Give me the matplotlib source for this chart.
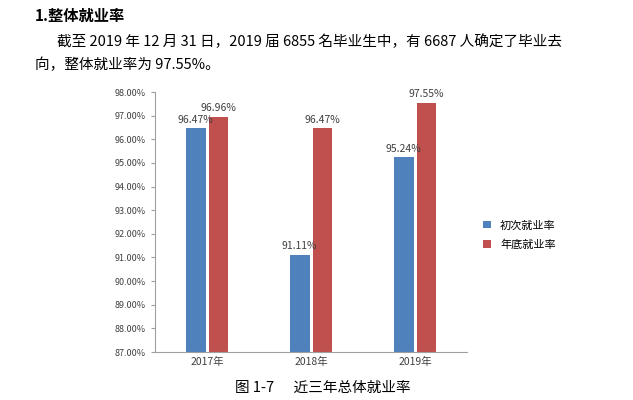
import matplotlib
matplotlib.use("Agg")
import matplotlib.pyplot as plt
import numpy as np

plt.rcParams["font.family"] = ["sans-serif"]
plt.rcParams["font.sans-serif"] = ["Noto Sans CJK SC", "Noto Sans CJK JP", "Noto Sans CJK TC",
                                   "Noto Sans CJK KR", "DejaVu Sans"]

categories = ["2017年", "2018年", "2019年"]
first_rate = [96.47, 91.11, 95.24]
year_end_rate = [96.96, 96.47, 97.55]
series_names = ["初次就业率", "年底就业率"]
yticks = [87 + i for i in range(12)]

fig = plt.figure(figsize=(6.33, 4.0), dpi=100)
fig.text(0.055, 0.96, "1.整体就业率", fontsize=11, fontweight="bold", va="center")
fig.text(0.09, 0.895, "截至 2019 年 12 月 31 日，2019 届 6855 名毕业生中，有 6687 人确定了毕业去",
         fontsize=10.5, va="center")
fig.text(0.055, 0.838, "向，整体就业率为 97.55%。", fontsize=10.5, va="center")

ax = fig.add_axes([0.245, 0.12, 0.493, 0.65])
x = np.arange(len(categories))
w = 0.19
b1 = ax.bar(x - 0.11, first_rate, w, color="#4f81bd", label=series_names[0])
b2 = ax.bar(x + 0.11, year_end_rate, w, color="#c0504d", label=series_names[1])
for bars, vals in ((b1, first_rate), (b2, year_end_rate)):
    for r, v in zip(bars, vals):
        ax.text(r.get_x() + r.get_width() / 2, v + 0.15, f"{v:.2f}%",
                ha="center", va="bottom", fontsize=7.5, color="#404040")
ax.set_ylim(87, 98)
ax.set_xlim(-0.5, 2.5)
ax.set_yticks(yticks)
ax.set_yticklabels([f"{t:.2f}%" for t in yticks], fontsize=6.5, color="#404040")
ax.set_xticks(x)
ax.set_xticklabels(categories, fontsize=7.5, color="#404040")
for s in ("top", "right"):
    ax.spines[s].set_visible(False)
for s in ("left", "bottom"):
    ax.spines[s].set_color("#a0a0a0")
ax.tick_params(axis="y", length=3, color="#a0a0a0")
ax.tick_params(axis="x", length=0)
ax.legend(loc="center left", bbox_to_anchor=(1.02, 0.45), frameon=False, fontsize=8,
          handlelength=0.7, handleheight=0.7, labelspacing=0.8)

fig.text(0.51, 0.03, "图 1-7      近三年总体就业率", ha="center", va="center", fontsize=10.5)
fig.savefig("out.png", dpi=100)
